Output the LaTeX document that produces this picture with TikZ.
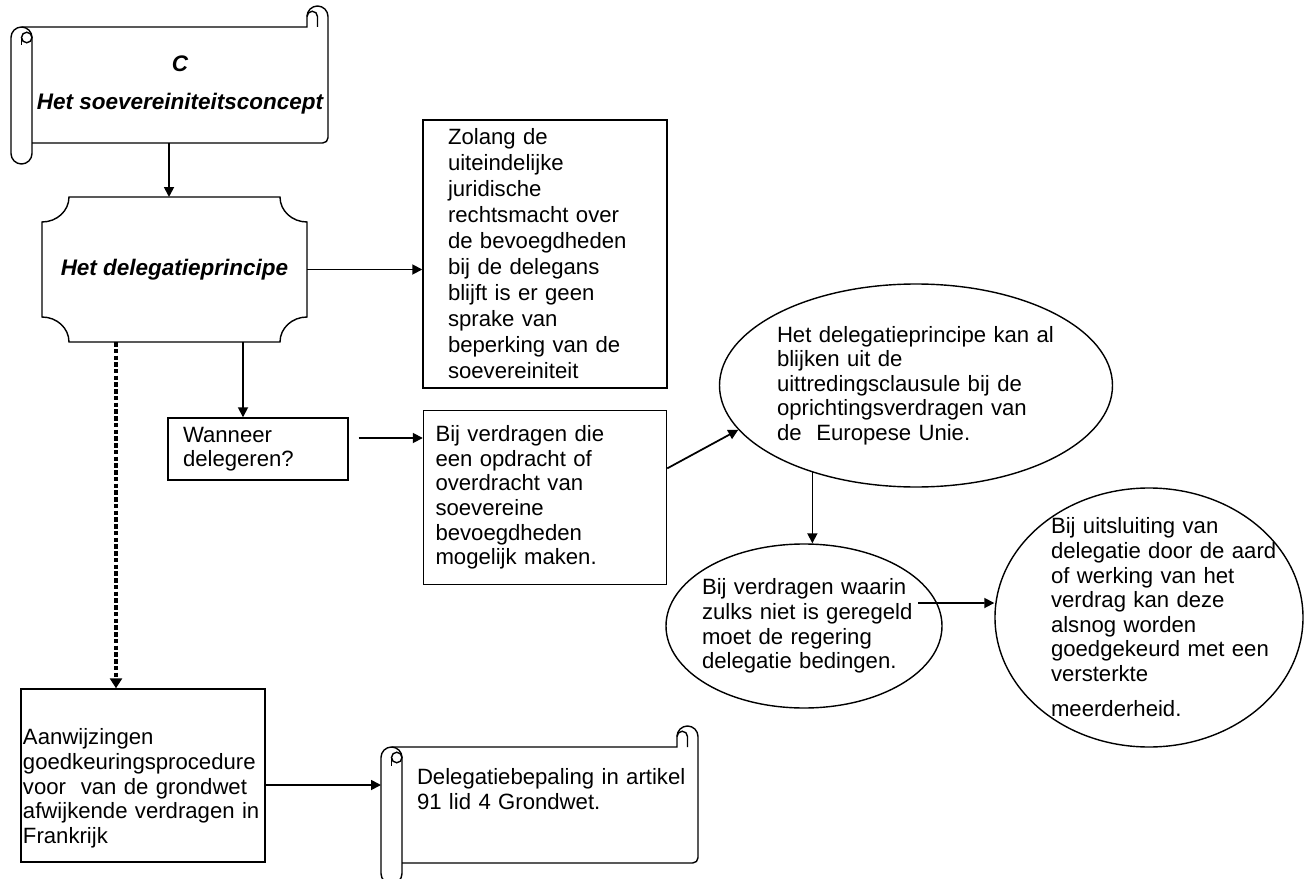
\documentclass[tikz,border=0pt]{standalone}
\usepackage{fontspec}
\setmainfont{Liberation Sans}
\usetikzlibrary{positioning, shapes.geometric, arrows.meta}

% horizontal scroll round a (borderless) node
\newcommand{\rolrand}[1]{%
  \draw[rand] ([xshift=-0.21cm]#1.north west) -- ([xshift=-0.42cm]#1.north east)
    -- ++(0,0.21) arc[start angle=180, end angle=0, radius=0.21]
    -- ([yshift=0.105cm]#1.south east) arc[start angle=0, end angle=-90, radius=0.105]
    -- (#1.south west);
  \draw[rand] ([xshift=-0.42cm,yshift=0.21cm]#1.north east) arc[start angle=180, end angle=0, radius=0.105]
    -- ([xshift=-0.21cm]#1.north east);
  \draw[rand] ([yshift=-0.21cm]#1.north west) arc[start angle=0, end angle=180, radius=0.21]
    -- ([xshift=-0.42cm,yshift=-0.21cm]#1.south west) arc[start angle=180, end angle=360, radius=0.21]
    -- cycle;
  \draw[rand] ([xshift=-0.105cm,yshift=-0.21cm]#1.north west) circle[radius=0.105];
  \draw[rand] ([xshift=-0.21cm,yshift=-0.21cm]#1.north west) -- ++(0,-0.16);
}

% plaque (rectangle with hollow corners) round a node
\newcommand{\plaquerand}[1]{%
  \draw[rand] ([yshift=-0.5cm]#1.north west) arc[start angle=270, end angle=360, x radius=0.54, y radius=0.5]
    -- ([xshift=-0.54cm]#1.north east) arc[start angle=180, end angle=270, x radius=0.54, y radius=0.5]
    -- ([yshift=0.5cm]#1.south east) arc[start angle=90, end angle=180, x radius=0.54, y radius=0.5]
    -- ([xshift=0.54cm]#1.south west) arc[start angle=0, end angle=90, x radius=0.54, y radius=0.5]
    -- cycle;
}

\begin{document}
\begin{tikzpicture}[
    font=\fontsize{12.6pt}{14pt}\selectfont,
    box/.style={rectangle, draw=black, thick, align=left, inner sep=0pt},
    ovaal/.style={ellipse, draw=black, thick, align=left},
    rol/.style={rectangle, minimum width=5.92cm, minimum height=2.32cm, inner xsep=0pt, outer sep=0pt},
    plaque/.style={rectangle, minimum width=5.30cm, minimum height=2.90cm, outer sep=0pt},
    vet/.style={font=\fontsize{12.8pt}{14pt}\selectfont\bfseries\itshape},
    rand/.style={draw=black, thick},
    link/.style={draw, line width=1pt, -{Triangle[length=0.2cm, width=0.2cm]}},
    stippel/.style={draw, line width=2.5pt, dash pattern=on 0.09cm off 0.045cm, -{Triangle[length=0.2cm, width=0.24cm]}}
]
\useasboundingbox (0,0) rectangle (26.2,-17.58);

% Scrolls and plaque
\node[rol, vet, align=center] (titel) at (3.60,-1.70) {C\\[0.25cm]Het soevereiniteitsconcept};
\node[plaque, vet, below=1.08cm of titel, xshift=-0.11cm] (delegatie) {Het delegatieprincipe};
\node[rol, text width=5.9cm, align=left] (grondwet) at (11.00,-16.10) {\leftskip=0.29cm Delegatiebepaling in artikel\\91 lid 4 Grondwet.\\\strut\par};

\rolrand{titel}
\rolrand{grondwet}
\plaquerand{delegatie}
\coordinate (rolL) at ([xshift=-0.42cm]grondwet.west);

% Boxes
\node[box, minimum width=4.88cm, minimum height=5.36cm, text width=3.88cm, font=\fontsize{12.6pt}{14.8pt}\selectfont] (zolang) at (10.90,-5.08) {Zolang de\\uiteindelijke\\juridische\\rechtsmacht over\\de bevoegdheden\\bij de delegans\\blijft is er geen\\sprake van\\beperking van de\\soevereiniteit};
\node[box, minimum width=4.86cm, minimum height=3.48cm, text width=4.38cm, below=0.42cm of zolang] (verdragen) {Bij verdragen die\\een opdracht of\\overdracht van\\soevereine\\bevoegdheden\\mogelijk maken.};
\node[box, minimum width=3.60cm, minimum height=1.24cm, text width=3.0cm] (wanneer) at (5.16,-8.98) {Wanneer\\delegeren?};
\node[box, minimum width=4.88cm, minimum height=3.46cm, text width=4.8cm] (frankrijk) at (2.86,-15.51) {\strut\\Aanwijzingen\\goedkeuringsprocedure\\voor\ \ van de grondwet\\afwijkende verdragen in\\Frankrijk};

% Ellipses
\node[ovaal, minimum width=7.86cm, minimum height=4.06cm, text width=5.8cm, inner sep=-0.15cm] (oprichting) at (18.32,-7.71) {\leftskip=0.12cm Het delegatieprincipe kan al\\blijken uit de\\uittredingsclausule bij de\\oprichtingsverdragen van\\de\ \ Europese Unie.\par};
\node[ovaal, minimum width=5.52cm, minimum height=3.28cm, text width=4.6cm, inner sep=-0.45cm] (waarin) at (16.08,-12.52) {\leftskip=0.26cm Bij verdragen waarin\\zulks niet is geregeld\\moet de regering\\delegatie bedingen.\par};
\node[ovaal, minimum width=6.16cm, minimum height=5.18cm, text width=5.4cm, inner sep=-0.6cm] (uitsluiting) at (22.98,-12.35) {\leftskip=0.74cm Bij uitsluiting van\\delegatie door de aard\\of werking van het\\verdrag kan deze\\alsnog worden\\goedgekeurd met een\\versterkte\\\rule{0pt}{19pt}meerderheid.\par};

% Connections
\draw[link] ([xshift=-0.22cm]titel.south) -- ([xshift=-0.22cm]titel.south |- delegatie.north);
\draw[link] (delegatie.east) -- (delegatie.east -| zolang.west);
\draw[link] ([xshift=-0.3cm]wanneer.north |- delegatie.south) -- ([xshift=-0.3cm]wanneer.north);
\draw[stippel] ([xshift=-0.54cm]frankrijk.north |- delegatie.south) -- ([xshift=-0.54cm]frankrijk.north);
\draw[link, shorten <=0.2cm] ([yshift=0.22cm]wanneer.east) -- ([yshift=0.22cm]wanneer.east -| verdragen.west);
\draw[link] ([yshift=0.58cm]verdragen.east) -- (oprichting.194);
\draw[link] (oprichting.220) -- (oprichting.220 |- waarin.north);
\draw[link] ([xshift=2.28cm,yshift=0.46cm]waarin.center) -- ([yshift=0.29cm]uitsluiting.west);
\draw[link] ([yshift=-0.19cm]frankrijk.east) -- ([yshift=-0.19cm]frankrijk.east -| rolL);

\end{tikzpicture}
\end{document}
